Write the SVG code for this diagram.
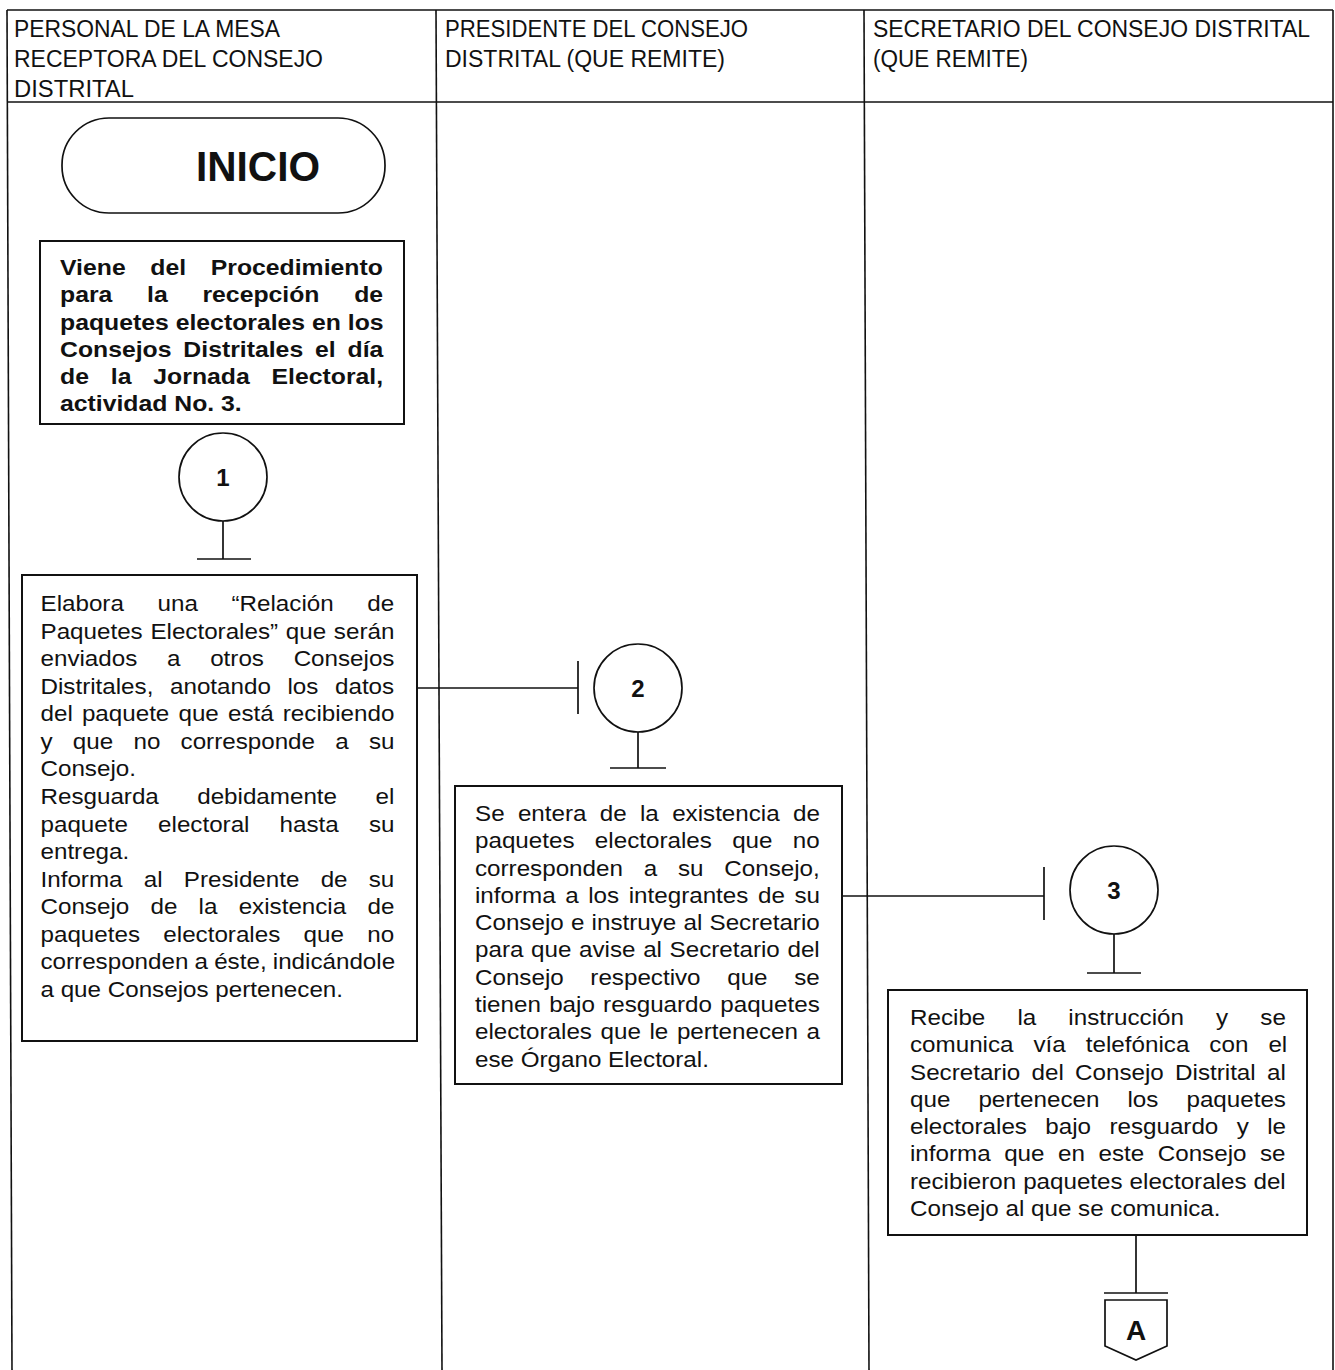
<svg xmlns="http://www.w3.org/2000/svg" width="1335" height="1370" viewBox="0 0 1335 1370">
<style>
  .frame{fill:none;stroke:#111;stroke-width:1.6}
  .box{fill:#fff;stroke:#111;stroke-width:2}
  .ln{fill:none;stroke:#111;stroke-width:1.7}
  .hd{font-family:"Liberation Sans",Arial,sans-serif;font-size:23px;fill:#111}
  .t{font-family:"Liberation Sans",Arial,sans-serif;font-size:22px;fill:#111}
  .b{font-family:"Liberation Sans",Arial,sans-serif;font-size:22px;font-weight:bold;fill:#111}
  .num{font-family:"Liberation Sans",Arial,sans-serif;font-size:24px;font-weight:bold;fill:#111;text-anchor:middle}
</style>
<rect width="1335" height="1370" fill="#fff"/>

<g id="lanes">
  <line class="frame" x1="7" y1="10" x2="1333" y2="10"/>
  <line class="frame" x1="7" y1="10" x2="12" y2="1370"/>
  <line class="frame" x1="436" y1="10" x2="442" y2="1370"/>
  <line class="frame" x1="864" y1="10" x2="869" y2="1370"/>
  <line class="frame" x1="1333" y1="10" x2="1333" y2="1370"/>
  <line class="frame" x1="7" y1="102" x2="1333" y2="102"/>
  <text class="hd" x="14" y="37" textLength="266" lengthAdjust="spacingAndGlyphs">PERSONAL DE LA MESA</text>
  <text class="hd" x="14" y="67" textLength="309" lengthAdjust="spacingAndGlyphs">RECEPTORA DEL CONSEJO</text>
  <text class="hd" x="14" y="97" textLength="120" lengthAdjust="spacingAndGlyphs">DISTRITAL</text>
  <text class="hd" x="445" y="37" textLength="303" lengthAdjust="spacingAndGlyphs">PRESIDENTE DEL CONSEJO</text>
  <text class="hd" x="445" y="67" textLength="280" lengthAdjust="spacingAndGlyphs">DISTRITAL (QUE REMITE)</text>
  <text class="hd" x="873" y="37" textLength="437" lengthAdjust="spacingAndGlyphs">SECRETARIO DEL CONSEJO DISTRITAL</text>
  <text class="hd" x="873" y="67" textLength="155" lengthAdjust="spacingAndGlyphs">(QUE REMITE)</text>
</g>

<g id="connectors">
  <line class="ln" x1="223" y1="521" x2="223" y2="559"/>
  <line class="ln" x1="197" y1="559" x2="251" y2="559"/>
  <line class="ln" x1="417" y1="688" x2="578" y2="688"/>
  <line class="ln" x1="578" y1="661" x2="578" y2="714"/>
  <line class="ln" x1="638" y1="732" x2="638" y2="768"/>
  <line class="ln" x1="610" y1="768" x2="666" y2="768"/>
  <line class="ln" x1="842" y1="896" x2="1044" y2="896"/>
  <line class="ln" x1="1044" y1="867" x2="1044" y2="920"/>
  <line class="ln" x1="1114" y1="934" x2="1114" y2="973"/>
  <line class="ln" x1="1087" y1="973" x2="1141" y2="973"/>
  <line class="ln" x1="1136" y1="1235" x2="1136" y2="1293"/>
  <line class="ln" x1="1104" y1="1293" x2="1168" y2="1293"/>
</g>

<g id="inicio">
  <rect class="ln" x="62" y="118" width="323" height="95" rx="47" ry="47"/>
  <text x="196" y="181" font-family="Liberation Sans, Arial, sans-serif" font-size="42" font-weight="bold" fill="#111" textLength="124" lengthAdjust="spacingAndGlyphs">INICIO</text>
</g>

<g id="viene">
  <rect class="box" x="40" y="241" width="364" height="183"/>
  <g transform="translate(60 0) scale(1.127 1)">
    <text class="b" x="0" y="275" style="word-spacing:15.75px">Viene del Procedimiento</text>
    <text class="b" x="0" y="302.3" style="word-spacing:24.7px">para la recepción de</text>
    <text class="b" x="0" y="329.6">paquetes electorales en los</text>
    <text class="b" x="0" y="356.9" style="word-spacing:4.4px">Consejos Distritales el día</text>
    <text class="b" x="0" y="384.2" style="word-spacing:13.3px">de la Jornada Electoral,</text>
    <text class="b" x="0" y="411.5">actividad No. 3.</text>
  </g>
</g>

<g id="c1">
  <circle class="ln" cx="223" cy="477" r="44"/>
  <text class="num" x="223" y="486">1</text>
</g>

<g id="act1">
  <rect class="box" x="22" y="575" width="395" height="466"/>
  <g transform="translate(40.5 0) scale(1.1 1)">
    <text class="t" x="0" y="611" style="word-spacing:24.5px">Elabora una “Relación de</text>
    <text class="t" x="0" y="638.6" style="word-spacing:0.9px">Paquetes Electorales” que serán</text>
    <text class="t" x="0" y="666.1" style="word-spacing:20.9px">enviados a otros Consejos</text>
    <text class="t" x="0" y="693.7" style="word-spacing:9px">Distritales, anotando los datos</text>
    <text class="t" x="0" y="721.3" style="word-spacing:2.2px">del paquete que está recibiendo</text>
    <text class="t" x="0" y="748.9" style="word-spacing:12.3px">y que no corresponde a su</text>
    <text class="t" x="0" y="776.4">Consejo.</text>
    <text class="t" x="0" y="804" style="word-spacing:28.8px">Resguarda debidamente el</text>
    <text class="t" x="0" y="831.6" style="word-spacing:21.3px">paquete electoral hasta su</text>
    <text class="t" x="0" y="859.1">entrega.</text>
    <text class="t" x="0" y="886.7" style="word-spacing:13.2px">Informa al Presidente de su</text>
    <text class="t" x="0" y="914.3" style="word-spacing:13.2px">Consejo de la existencia de</text>
    <text class="t" x="0" y="941.8" style="word-spacing:15.1px">paquetes electorales que no</text>
    <text class="t" x="0" y="969.4" style="word-spacing:-0.5px">corresponden a éste, indicándole</text>
    <text class="t" x="0" y="997">a que Consejos pertenecen.</text>
  </g>
</g>

<g id="c2">
  <circle class="ln" cx="638" cy="688" r="44"/>
  <text class="num" x="638" y="697">2</text>
</g>

<g id="act2">
  <rect class="box" x="455" y="786" width="387" height="298"/>
  <g transform="translate(475 0) scale(1.1 1)">
    <text class="t" x="0" y="821" style="word-spacing:6px">Se entera de la existencia de</text>
    <text class="t" x="0" y="848.3" style="word-spacing:12.4px">paquetes electorales que no</text>
    <text class="t" x="0" y="875.6" style="word-spacing:12.8px">corresponden a su Consejo,</text>
    <text class="t" x="0" y="902.9" style="word-spacing:2.6px">informa a los integrantes de su</text>
    <text class="t" x="0" y="930.2" style="word-spacing:0.45px">Consejo e instruye al Secretario</text>
    <text class="t" x="0" y="957.5" style="word-spacing:0.84px">para que avise al Secretario del</text>
    <text class="t" x="0" y="984.8" style="word-spacing:18.1px">Consejo respectivo que se</text>
    <text class="t" x="0" y="1012.1" style="word-spacing:1.4px">tienen bajo resguardo paquetes</text>
    <text class="t" x="0" y="1039.4" style="word-spacing:1.7px">electorales que le pertenecen a</text>
    <text class="t" x="0" y="1066.7">ese Órgano Electoral.</text>
  </g>
</g>

<g id="c3">
  <circle class="ln" cx="1114" cy="890" r="44"/>
  <text class="num" x="1114" y="899">3</text>
</g>

<g id="act3">
  <rect class="box" x="888" y="990" width="419" height="245"/>
  <g transform="translate(910 0) scale(1.1 1)">
    <text class="t" x="0" y="1025" style="word-spacing:23.1px">Recibe la instrucción y se</text>
    <text class="t" x="0" y="1052.3" style="word-spacing:12.1px">comunica vía telefónica con el</text>
    <text class="t" x="0" y="1079.6" style="word-spacing:4.15px">Secretario del Consejo Distrital al</text>
    <text class="t" x="0" y="1106.9" style="word-spacing:19.4px">que pertenecen los paquetes</text>
    <text class="t" x="0" y="1134.2" style="word-spacing:10.6px">electorales bajo resguardo y le</text>
    <text class="t" x="0" y="1161.5" style="word-spacing:6.2px">informa que en este Consejo se</text>
    <text class="t" x="0" y="1188.8" style="word-spacing:0.2px">recibieron paquetes electorales del</text>
    <text class="t" x="0" y="1216.1">Consejo al que se comunica.</text>
  </g>
</g>

<g id="offpageA">
  <polygon class="ln" points="1105,1300 1167,1300 1167,1346 1136,1360 1105,1346"/>
  <text x="1136" y="1340" font-family="Liberation Sans, Arial, sans-serif" font-size="28" font-weight="bold" fill="#111" text-anchor="middle">A</text>
</g>
</svg>
